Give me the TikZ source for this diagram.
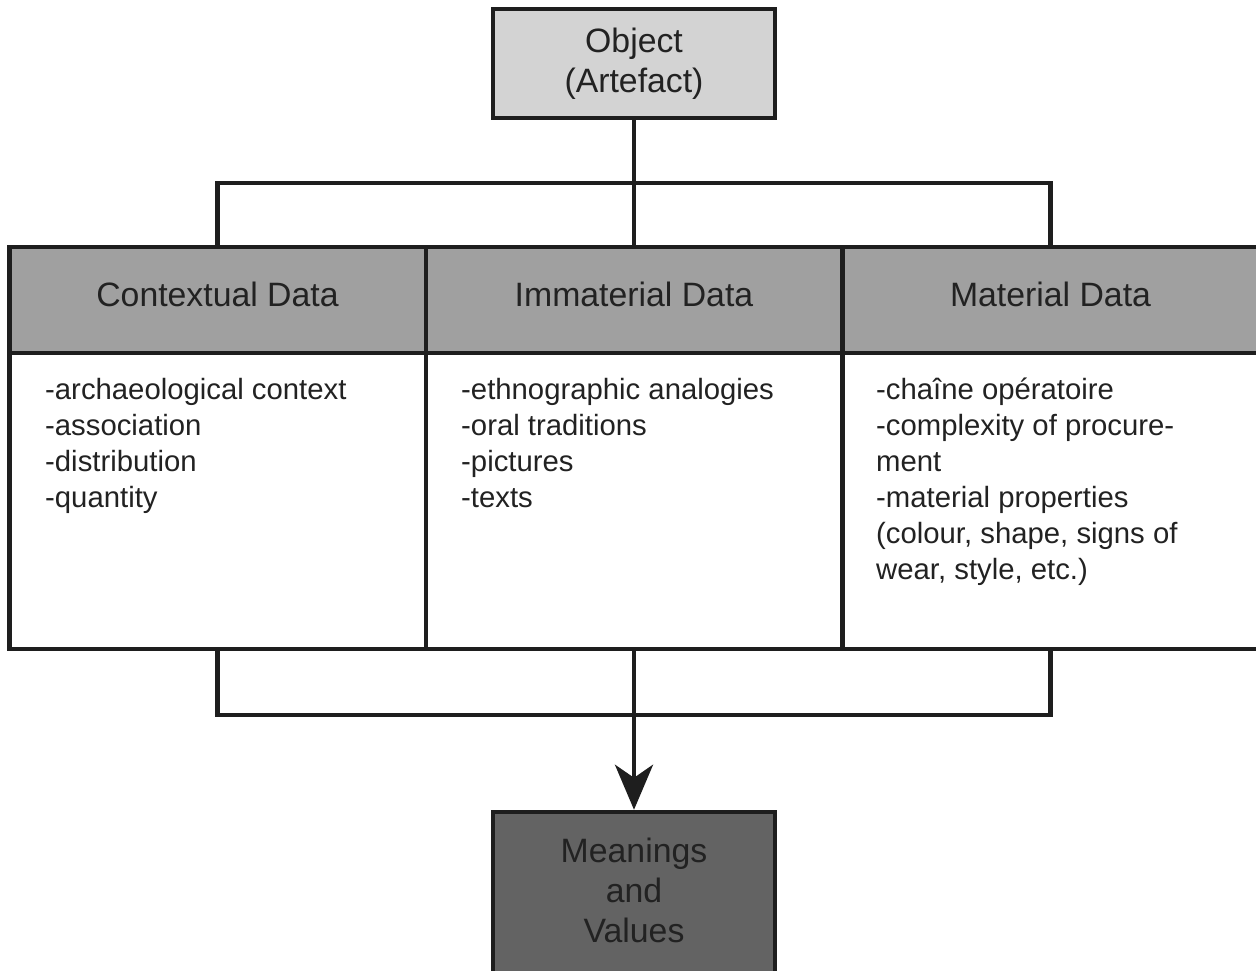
\documentclass[tikz,border=0pt]{standalone}
\usepackage{fontspec}
\setmainfont{Liberation Sans}
\usetikzlibrary{arrows.meta}
\definecolor{ink}{HTML}{1E1E1E}
\definecolor{txt}{HTML}{222222}
\definecolor{objfill}{HTML}{D3D3D3}
\definecolor{headfill}{HTML}{A0A0A0}
\definecolor{resfill}{HTML}{636363}
\begin{document}
\begin{tikzpicture}[x=1pt,y=-1pt,
  frame/.style={draw=ink, line width=4.5pt, inner sep=0pt},
  endbox/.style={frame, minimum width=282pt, text=txt, align=center,
    font=\fontsize{33.8}{40}\selectfont},
  head/.style={frame, fill=headfill, minimum width=416.5pt, minimum height=106pt,
    text depth=12pt, text=txt, font=\fontsize{33.8}{40}\selectfont},
  cell/.style={frame, fill=white, minimum width=416.5pt, minimum height=296pt},
  list/.style={anchor=base west, align=left, inner sep=0pt, text=txt,
    font=\fontsize{29.3}{36}\selectfont},
  wire/.style={draw=ink, line width=4.5pt, line join=miter}]
\useasboundingbox (0,0) rectangle (1256,970);
\clip (0,0) rectangle (1256,970);

% source object
\node[endbox, fill=objfill, minimum height=109pt] (obj) at (634,63.5) {Object\\(Artefact)};

% table body cells
\node[cell] (ctxB) at (217.5,501) {};
\node[cell] (immB) at (634,501) {};
\node[cell] (matB) at (1050.5,501) {};

% table header cells
\node[head] (ctxH) at (217.5,300) {Contextual Data};
\node[head] (immH) at (634,300) {Immaterial Data};
\node[head] (matH) at (1050.5,300) {Material Data};

% column contents (anchored at the baseline of the last line)
\node[list] (ctxL) at (45,507) {-archaeological context\\-association\\-distribution\\-quantity};
\node[list] (immL) at (461,507) {-ethnographic analogies\\-oral traditions\\-pictures\\-texts};
\node[list] (matL) at (876,579) {-chaîne opératoire\\-complexity of procure-\\ment\\-material properties\\(colour, shape, signs of\\wear, style, etc.)};

% result box
\node[endbox, fill=resfill, minimum height=188pt] (mv) at (634,906) {};
\node[anchor=base, align=center, inner sep=0pt, text=txt,
  font=\fontsize{33.8}{40}\selectfont] (mvtext) at (634,942) {Meanings\\and\\Values};

% upper bus
\coordinate (topbus) at (634,183);
\draw[wire] (obj.south) -- (immH.north);
\draw[wire] (ctxH.north) |- (topbus) -| (matH.north);

% lower bus and arrow
\coordinate (botbus) at (634,715);
\draw[wire] (ctxB.south) |- (botbus) -| (matB.south);
\draw[wire, -{Stealth[length=45pt,width=38pt,inset=13pt]}] (immB.south) -- (mv.north);
\end{tikzpicture}
\end{document}
